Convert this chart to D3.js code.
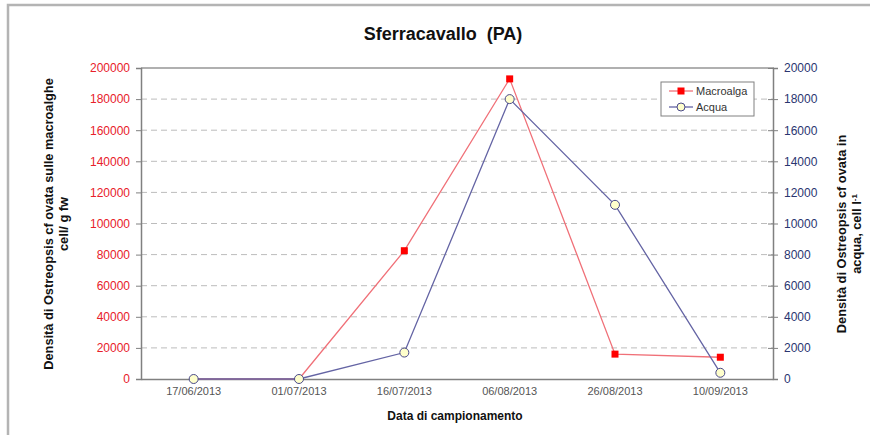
<!DOCTYPE html>
<html><head><meta charset="utf-8">
<script src="https://cdn.jsdelivr.net/npm/d3@7/dist/d3.min.js"></script>
<style>body{margin:0;background:#fff}svg{display:block;font-family:"Liberation Sans",Arial,sans-serif}</style>
</head><body><svg id="c" width="870" height="435"></svg>
<script>
const categories = ["17/06/2013","01/07/2013","16/07/2013","06/08/2013","26/08/2013","10/09/2013"];
const macroalga = [0, 0, 82500, 193000, 16000, 14000];
const acqua = [0, 0, 1700, 18000, 11200, 400];
const leftTicks = [0,20000,40000,60000,80000,100000,120000,140000,160000,180000,200000];
const rightTicks = [0,2000,4000,6000,8000,10000,12000,14000,16000,18000,20000];

const svg = d3.select("#c");
const m = {l:141, r:773, t:68, b:379};

// outer frame
svg.append("path").attr("d","M8,435 L8,5 L870,5").attr("fill","none").attr("stroke","#b4b4b4").attr("stroke-width",2.5);

const x = d3.scaleBand().domain(categories).range([m.l, m.r]);
const yL = d3.scaleLinear().domain([0,200000]).range([m.b, m.t]);
const yR = d3.scaleLinear().domain([0,20000]).range([m.b, m.t]);

// gridlines
svg.append("g").selectAll("line").data(leftTicks.filter(d=>d>0 && d<200000)).join("line")
  .attr("x1",m.l).attr("x2",m.r).attr("y1",d=>yL(d)).attr("y2",d=>yL(d))
  .attr("stroke","#bcbcbc").attr("stroke-dasharray","6,4").attr("stroke-width",1);

// top border
svg.append("line").attr("x1",m.l).attr("x2",m.r+1).attr("y1",m.t).attr("y2",m.t).attr("stroke","#b0b0b0").attr("stroke-width",2);

// left axis
const gL = svg.append("g").attr("transform",`translate(${m.l},0)`)
  .call(d3.axisLeft(yL).tickValues(leftTicks).tickSize(5).tickPadding(6).tickFormat(d3.format("d")));
gL.select(".domain").attr("stroke","#808080").attr("stroke-width",1.5);
gL.selectAll(".tick line").attr("stroke","#808080");
gL.selectAll("text").attr("fill","#e8202a").attr("font-size","12px").attr("font-family","Liberation Sans, Arial, sans-serif");

// right axis
const gR = svg.append("g").attr("transform",`translate(${m.r},0)`)
  .call(d3.axisRight(yR).tickValues(rightTicks).tickSize(5).tickPadding(6).tickFormat(d3.format("d")));
gR.select(".domain").attr("stroke","#808080").attr("stroke-width",1.5);
gR.selectAll(".tick line").attr("stroke","#808080").attr("x1",-5);
gR.selectAll("text").attr("fill","#2a3570").attr("font-size","12px").attr("font-family","Liberation Sans, Arial, sans-serif");

// bottom axis
const gB = svg.append("g").attr("transform",`translate(0,${m.b})`)
  .call(d3.axisBottom(x).tickSize(0).tickPadding(8));
gB.select(".domain").attr("stroke","#808080").attr("stroke-width",1.5);
gB.selectAll("text").attr("fill","#555").attr("font-size","11px").attr("font-family","Liberation Sans, Arial, sans-serif");

const cx = d => x(d) + x.bandwidth()/2;

// Macroalga line
svg.append("path").datum(macroalga).attr("fill","none").attr("stroke","#f07078").attr("stroke-width",1.3)
  .attr("d", d3.line().x((d,i)=>cx(categories[i])).y(d=>yL(d)));
// Acqua line
svg.append("path").datum(acqua).attr("fill","none").attr("stroke","#6464a4").attr("stroke-width",1.3)
  .attr("d", d3.line().x((d,i)=>cx(categories[i])).y(d=>yR(d)));

// Macroalga markers
svg.append("g").selectAll("rect").data(macroalga.map((v,i)=>[categories[i],v]).filter(d=>d[1]>0)).join("rect")
  .attr("x",d=>cx(d[0])-3.5).attr("y",d=>yL(d[1])-3.5).attr("width",7).attr("height",7).attr("fill","#ff0000");
// Acqua markers
svg.append("g").selectAll("circle").data(acqua).join("circle")
  .attr("cx",(d,i)=>cx(categories[i])).attr("cy",d=>yR(d)).attr("r",4.5)
  .attr("fill","#ffffcc").attr("stroke","#4a4a8a").attr("stroke-width",1);

// Title
svg.append("text").attr("x",443).attr("y",40).attr("text-anchor","middle").attr("font-size","18px").attr("font-weight","bold").attr("fill","#111").text("Sferracavallo\u00a0\u00a0(PA)");

// x title
svg.append("text").attr("x",455).attr("y",420).attr("text-anchor","middle").attr("font-size","12px").attr("font-weight","bold").attr("fill","#111").text("Data di campionamento");

// left y title
const lt = svg.append("text").attr("transform","translate(53,224) rotate(-90)").attr("text-anchor","middle").attr("font-size","12.8px").attr("font-weight","bold").attr("fill","#111");
lt.append("tspan").attr("x",0).attr("dy",0).text("Densità di Ostreopsis cf ovata sulle macroalghe");
lt.append("tspan").attr("x",0).attr("dy",15).text("cell/ g fw");

// right y title
const rt = svg.append("text").attr("transform","translate(846,234) rotate(-90)").attr("text-anchor","middle").attr("font-size","12.8px").attr("font-weight","bold").attr("fill","#111");
rt.append("tspan").attr("x",0).attr("dy",0).text("Densità di Ostreopsis cf ovata in");
rt.append("tspan").attr("x",0).attr("dy",15).text("acqua, cell l");
rt.append("tspan").attr("dy",-4).attr("font-size","8px").text("-1");

// legend
const lg = svg.append("g");
lg.append("rect").attr("x",661).attr("y",82).attr("width",93).attr("height",34).attr("fill","#fff").attr("stroke","#808080").attr("stroke-width",1);
lg.append("line").attr("x1",669).attr("x2",693).attr("y1",91).attr("y2",91).attr("stroke","#f07078").attr("stroke-width",1.3);
lg.append("rect").attr("x",677.5).attr("y",87.5).attr("width",7).attr("height",7).attr("fill","#ff0000");
lg.append("text").attr("x",696).attr("y",95).attr("font-size","11px").attr("fill","#333").text("Macroalga");
lg.append("line").attr("x1",669).attr("x2",693).attr("y1",107).attr("y2",107).attr("stroke","#6464a4").attr("stroke-width",1.3);
lg.append("circle").attr("cx",681).attr("cy",107).attr("r",4).attr("fill","#ffffcc").attr("stroke","#4a4a8a");
lg.append("text").attr("x",696).attr("y",111).attr("font-size","11px").attr("fill","#333").text("Acqua");
</script></body></html>
